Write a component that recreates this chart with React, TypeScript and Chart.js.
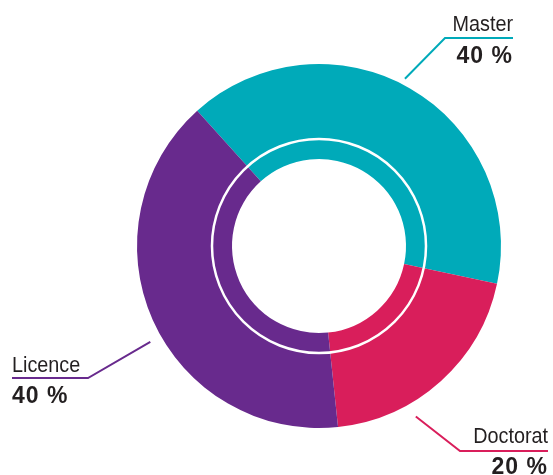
import React, { useEffect, useRef } from "react";
import { Chart, registerables } from "chart.js";

Chart.register(...registerables);

// ---- data ----
const categories = ["Master", "Doctorat", "Licence"];
const values = [40, 20, 40];
const valueLabels = ["40 %", "20 %", "40 %"];
const colors = ["#00AAB9", "#D91E5B", "#682A8D"];

// ---- label layout (annotation placement, not data) ----
const labelAngleOffsetDeg = [-2.8, 12.4, -5.6];
const labelGap = [6, 14, 12];
const labelElbow = [
  [445, 38],
  [460, 451],
  [88, 378],
];
const labelLineEndX = [513, 548, 12];
const labelAlign: CanvasTextAlign[] = ["right", "right", "left"];
const labelNameY = [31, 443, 372];
const labelValueY = [63, 474, 403];

const TEXT = "#231F20";
const RING_RADIUS = 107;

const overlayPlugin = {
  id: "overlay",
  afterDatasetsDraw(chart: any) {
    const ctx: CanvasRenderingContext2D = chart.ctx;
    const meta = chart.getDatasetMeta(0);
    const first = meta.data[0];
    const cx = first.x;
    const cy = first.y;
    const outer = first.outerRadius;

    // thin white inner ring
    ctx.save();
    ctx.beginPath();
    ctx.arc(cx, cy, RING_RADIUS, 0, Math.PI * 2);
    ctx.strokeStyle = "#ffffff";
    ctx.lineWidth = 2.5;
    ctx.stroke();
    ctx.restore();

    meta.data.forEach((arc: any, i: number) => {
      const mid = (arc.startAngle + arc.endAngle) / 2 + (labelAngleOffsetDeg[i] * Math.PI) / 180;
      const r = outer + labelGap[i];
      const sx = cx + r * Math.cos(mid);
      const sy = cy + r * Math.sin(mid);
      const [ex, ey] = labelElbow[i];

      ctx.save();
      ctx.beginPath();
      ctx.moveTo(sx, sy);
      ctx.lineTo(ex, ey);
      ctx.lineTo(labelLineEndX[i], ey);
      ctx.strokeStyle = colors[i];
      ctx.lineWidth = 2;
      ctx.lineJoin = "miter";
      ctx.stroke();
      ctx.restore();

      const tx = labelLineEndX[i];
      ctx.save();
      ctx.fillStyle = TEXT;
      ctx.textAlign = labelAlign[i];
      ctx.textBaseline = "alphabetic";
      ctx.font = "22px 'Liberation Sans', Arial, sans-serif";
      ctx.translate(tx, labelNameY[i]);
      ctx.scale(0.9, 1);
      ctx.fillText(categories[i], 0, 0);
      ctx.restore();

      ctx.save();
      ctx.fillStyle = TEXT;
      ctx.textAlign = labelAlign[i];
      ctx.textBaseline = "alphabetic";
      ctx.font = "bold 23px 'Liberation Sans', Arial, sans-serif";
      (ctx as any).letterSpacing = "1px";
      ctx.fillText(valueLabels[i], tx, labelValueY[i]);
      ctx.restore();
    });
  },
};

export default function App() {
  const ref = useRef<HTMLCanvasElement | null>(null);

  useEffect(() => {
    if (!ref.current) return;
    const chart = new Chart(ref.current, {
      type: "doughnut",
      data: {
        labels: categories,
        datasets: [
          {
            data: values,
            backgroundColor: colors,
            borderWidth: 0,
            hoverOffset: 0,
          },
        ],
      },
      options: {
        responsive: false,
        animation: false,
        devicePixelRatio: 1,
        rotation: -42,
        cutout: 87,
        layout: { padding: { left: 137, right: 52, top: 64, bottom: 47 } },
        plugins: {
          legend: { display: false },
          tooltip: { enabled: false },
        },
        events: [],
      },
      plugins: [overlayPlugin],
    });
    return () => chart.destroy();
  }, []);

  return (
    <div style={{ position: "fixed", left: 0, top: 0, width: 553, height: 475, background: "#fff" }}>
      <canvas ref={ref} width={553} height={475} style={{ width: 553, height: 475, display: "block" }} />
    </div>
  );
}
